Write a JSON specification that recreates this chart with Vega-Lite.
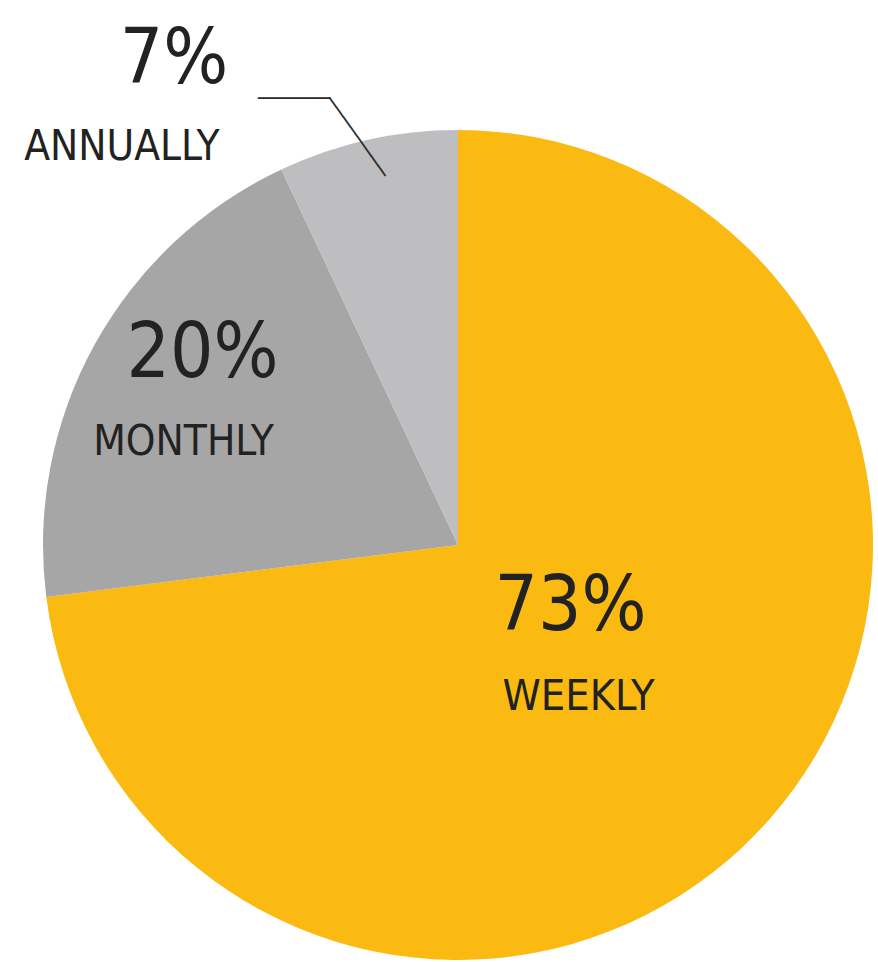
{
  "$schema": "https://vega.github.io/schema/vega-lite/v6.json",
  "width": 830,
  "height": 830,
  "autosize": "none",
  "padding": {"left": 43, "top": 130, "right": 5, "bottom": 2},
  "background": "white",
  "config": {"view": {"stroke": null}},
  "data": {
    "values": [
      {"cat": "Weekly", "label": "WEEKLY", "value": 0.73},
      {"cat": "Monthly", "label": "MONTHLY", "value": 0.20},
      {"cat": "Annually", "label": "ANNUALLY", "value": 0.07}
    ]
  },
  "encoding": {
    "theta": {"field": "value", "type": "quantitative", "stack": true},
    "order": {"field": "value", "type": "quantitative", "sort": "descending"}
  },
  "layer": [
    {
      "mark": {"type": "arc", "strokeWidth": 0},
      "encoding": {
        "color": {
          "field": "cat",
          "type": "nominal",
          "scale": {"domain": ["Weekly", "Monthly", "Annually"], "range": ["#FBBA12", "#A6A6A6", "#BEBDBF"]},
          "legend": null
        }
      }
    },
    {
      "mark": {"type": "text", "radius": 150, "dx": 0, "dy": -14, "align": "center", "baseline": "alphabetic", "font": "DejaVu Sans Condensed", "fontSize": 76, "color": "#222222"},
      "encoding": {"text": {"condition": {"test": "datum.cat === 'Weekly'", "field": "value", "type": "quantitative", "format": ".0%"}, "value": ""}}
    },
    {
      "mark": {"type": "text", "radius": 150, "dx": 8, "dy": 66, "align": "center", "baseline": "alphabetic", "font": "DejaVu Sans Condensed", "fontSize": 43, "color": "#222222"},
      "encoding": {"text": {"condition": {"test": "datum.cat === 'Weekly'", "field": "label", "type": "nominal"}, "value": ""}}
    },
    {
      "mark": {"type": "text", "radius": 250, "dx": -36.4, "dy": -47.6, "align": "center", "baseline": "alphabetic", "font": "DejaVu Sans Condensed", "fontSize": 76, "color": "#222222"},
      "encoding": {"text": {"condition": {"test": "datum.cat === 'Monthly'", "field": "value", "type": "quantitative", "format": ".0%"}, "value": ""}}
    },
    {
      "mark": {"type": "text", "radius": 250, "dx": -55.4, "dy": 30.4, "align": "center", "baseline": "alphabetic", "font": "DejaVu Sans Condensed", "fontSize": 42, "color": "#222222"},
      "encoding": {"text": {"condition": {"test": "datum.cat === 'Monthly'", "field": "label", "type": "nominal"}, "value": ""}}
    },
    {
      "mark": {"type": "text", "radius": 500, "dx": -175, "dy": 26, "align": "center", "baseline": "alphabetic", "font": "DejaVu Sans Condensed", "fontSize": 76, "color": "#222222"},
      "encoding": {"text": {"condition": {"test": "datum.cat === 'Annually'", "field": "value", "type": "quantitative", "format": ".0%"}, "value": ""}}
    },
    {
      "mark": {"type": "text", "radius": 500, "dx": -227, "dy": 103, "align": "center", "baseline": "alphabetic", "font": "DejaVu Sans Condensed", "fontSize": 42, "color": "#222222"},
      "encoding": {"text": {"condition": {"test": "datum.cat === 'Annually'", "field": "label", "type": "nominal"}, "value": ""}}
    },
    {
      "mark": {"type": "text", "radius": 500, "dx": -54.9, "dy": 42, "align": "center", "baseline": "middle", "font": "DejaVu Sans Mono", "fontSize": 20, "color": "#2a2a2a"},
      "encoding": {"text": {"condition": {"test": "datum.cat === 'Annually'", "value": "──────"}, "value": ""}}
    },
    {
      "mark": {"type": "text", "radius": 421, "dx": -3.1, "dy": 9.5, "angle": 54.5, "align": "center", "baseline": "middle", "font": "DejaVu Sans Mono", "fontSize": 20, "color": "#2a2a2a"},
      "encoding": {"text": {"condition": {"test": "datum.cat === 'Annually'", "value": "────────"}, "value": ""}}
    }
  ]
}
